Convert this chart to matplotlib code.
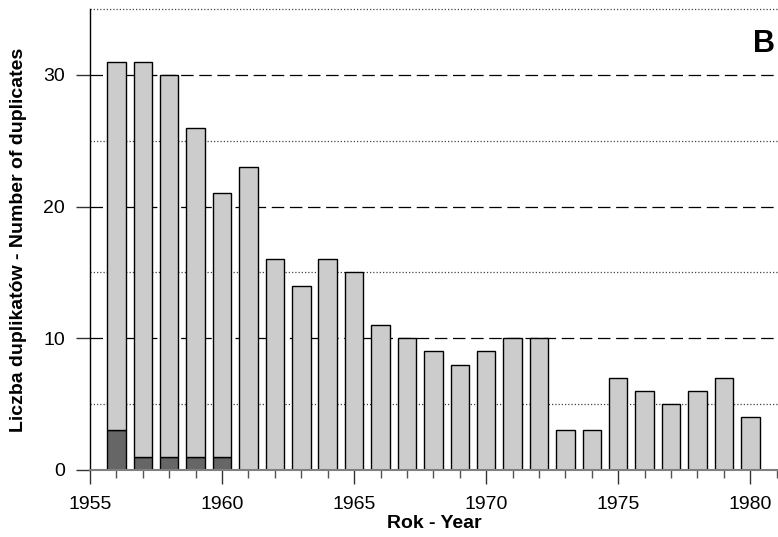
import matplotlib.pyplot as plt
from matplotlib.ticker import MultipleLocator
import numpy as np

plt.rcParams["font.family"] = ["Liberation Sans", "DejaVu Sans"]

# Duplicates per year; the dark part is the subset shown at the base of each bar
years = list(range(1956, 1981))
total = [31, 31, 30, 26, 21, 23, 16, 14, 16, 15, 11, 10, 9, 8, 9, 10, 10,
         3, 3, 7, 6, 5, 6, 7, 4]
dark = [3, 1, 1, 1, 1] + [0] * 20

light = np.array(total) - np.array(dark)

fig = plt.figure(figsize=(7.78, 5.37), dpi=100)
ax = fig.add_axes([0.1157, 0.1248, 0.8843, 0.8584])

ax.bar(years, dark, width=0.7, color="#666666", edgecolor="black", linewidth=1.0, zorder=3)
ax.bar(years, light, bottom=dark, width=0.7, color="#cccccc", edgecolor="black",
       linewidth=1.0, zorder=3)

ax.set_xlim(1955, 1981.05)
ax.set_ylim(0, 35)

# dashed major / dotted minor horizontal grid
for y in (10, 20, 30):
    ax.axhline(y, color="black", linestyle=(0, (10, 4.5)), linewidth=0.9, zorder=1)
for y in (5, 15, 25, 35):
    ax.axhline(y, color="#444444", linestyle=(0, (1, 1.6)), linewidth=0.9, zorder=1,
               clip_on=False)
ax.axhline(0, color="#808080", linewidth=1.5, zorder=4, clip_on=False)

ax.xaxis.set_major_locator(MultipleLocator(5))
ax.xaxis.set_minor_locator(MultipleLocator(1))
ax.yaxis.set_major_locator(MultipleLocator(10))
ax.tick_params(axis="x", which="major", length=10, width=1.0, color="#333333",
               labelsize=14, pad=9)
ax.tick_params(axis="x", which="minor", length=6, width=1.0, color="#555555")
ax.tick_params(axis="y", which="major", length=10, width=1.0, color="#333333",
               labelsize=14, pad=8)

for s in ("top", "right", "bottom"):
    ax.spines[s].set_visible(False)
ax.spines["left"].set_linewidth(1.0)

ax.set_xlabel("Rok - Year", fontsize=14, fontweight="bold", labelpad=1)
ax.set_ylabel("Liczba duplikatów - Number of duplicates", fontsize=14,
              fontweight="bold", labelpad=12)

ax.text(0.995, 0.924, "B", transform=ax.transAxes, fontsize=22, fontweight="bold",
        ha="right", va="center")

fig.savefig("out.png", dpi=100)
